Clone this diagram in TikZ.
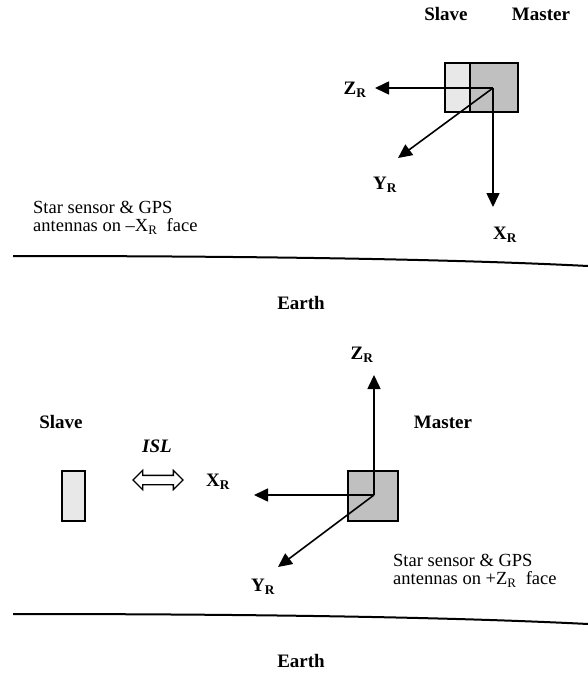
\documentclass[tikz,border=0pt]{standalone}
\usepackage{fontspec}
\setmainfont{Liberation Serif}
\usepackage{tikz}
\usetikzlibrary{arrows.meta, shapes.arrows}

\definecolor{masterfill}{RGB}{192,192,192}
\definecolor{slavefill}{RGB}{232,232,232}

\begin{document}
\begin{tikzpicture}[x=1pt, y=-1pt,
  lbl/.style={font=\fontsize{19}{22}\selectfont\bfseries, inner sep=0pt},
  note/.style={font=\fontsize{18.5}{18}\selectfont, align=left, anchor=west, inner sep=0pt},
  axis/.style={black, line width=1.6pt, -{Triangle[length=14pt, width=13pt]}},
  earth/.style={black, line width=2pt}]
\useasboundingbox (0,0) rectangle (588,674);

%% top: both satellites in one row
\path (446,14) node[lbl] (slaveA) {Slave};
\path (541,14) node[lbl] (masterA) {Master};
\filldraw[fill=slavefill, draw=black, line width=1.8pt] (445,63) rectangle (470,112);
\filldraw[fill=masterfill, draw=black, line width=1.8pt] (470,63) rectangle (518,112);
\coordinate (oA) at (493,88);
\coordinate (zA) at (375,88);
\coordinate (xA) at (493,207);
\coordinate (yA) at (398,158);
\draw[axis] (oA) -- (zA);
\draw[axis] (oA) -- (yA);
\draw[axis] (oA) -- (xA);
\path (355,90) node[lbl] (zlA) {Z\textsubscript{R}};
\path (385,185) node[lbl] (ylA) {Y\textsubscript{R}};
\path (505,235) node[lbl] (xlA) {X\textsubscript{R}};
\path (33,218) node[note] (noteA) {Star sensor \& GPS\\antennas on --X\textsubscript{R}\ \ face};

\draw[earth] (13,256) .. controls (250,256) and (450,259) .. (588,266);
\path (301,303) node[lbl] (earthA) {Earth};

%% bottom: slave and master apart, linked by ISL
\path (61,422) node[lbl] (slaveB) {Slave};
\path (443,422) node[lbl] (masterB) {Master};
\path (157,446) node[lbl, font=\fontsize{19}{22}\selectfont\bfseries\itshape] (isl) {ISL};
\filldraw[fill=slavefill, draw=black, line width=1.8pt] (62,471) rectangle (85,521);
\path (158,480) node[double arrow, draw=black, fill=white, line width=1.3pt,
  minimum height=50pt, inner sep=4pt, double arrow head extend=5pt] (link) {};
\filldraw[fill=masterfill, draw=black, line width=1.8pt] (348,471) rectangle (398,521);
\coordinate (oB) at (374,495);
\coordinate (zB) at (374,375);
\coordinate (xB) at (254,495);
\coordinate (yB) at (278,567);
\draw[axis] (oB) -- (zB);
\draw[axis] (oB) -- (xB);
\draw[axis] (oB) -- (yB);
\path (362,355) node[lbl] (zlB) {Z\textsubscript{R}};
\path (218,482) node[lbl] (xlB) {X\textsubscript{R}};
\path (263,587) node[lbl] (ylB) {Y\textsubscript{R}};
\path (393,571) node[note] (noteB) {Star sensor \& GPS\\antennas on +Z\textsubscript{R}\ \ face};

\draw[earth] (13,614) .. controls (250,614) and (450,617) .. (588,624);
\path (301,661) node[lbl] (earthB) {Earth};
\end{tikzpicture}
\end{document}
